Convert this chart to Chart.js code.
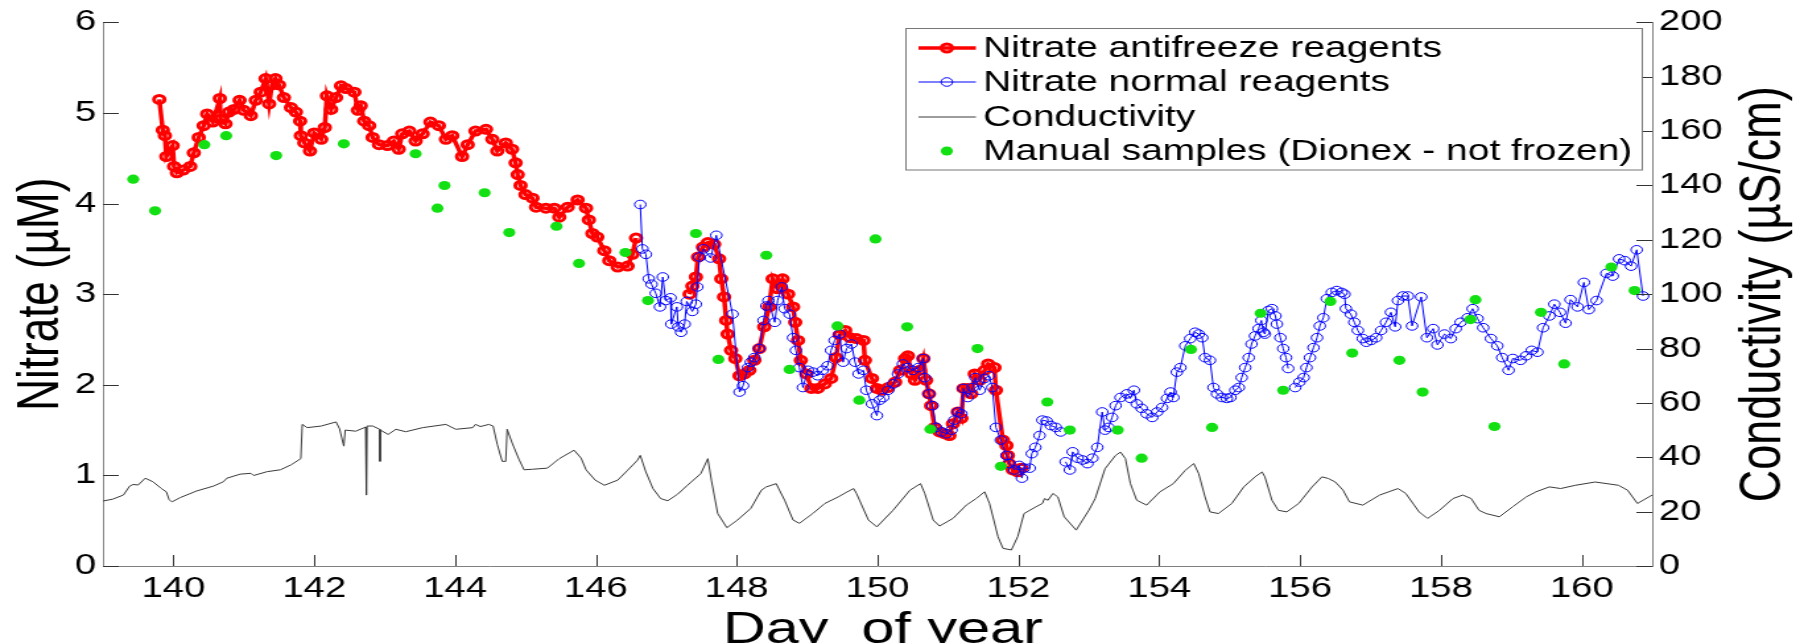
<!DOCTYPE html>
<html>
<head>
<meta charset="utf-8">
<script src="https://cdn.jsdelivr.net/npm/chart.js@4.4.0/dist/chart.umd.min.js"></script>
<style>
  html, body { margin: 0; padding: 0; background: #fff; overflow: hidden; }
</style>
</head>
<body>
<!-- the original figure is stretched sideways, so the canvas is drawn narrow and widened by CSS -->
<canvas id="chart" width="1364" height="643" style="width:1800px;height:643px;display:block"></canvas>
<script>
// Tick labels
const dayTicks = [140, 142, 144, 146, 148, 150, 152, 154, 156, 158, 160];
const nitrateTicks = [0, 1, 2, 3, 4, 5, 6];
const condTicks = [0, 20, 40, 60, 80, 100, 120, 140, 160, 180, 200];

// Nitrate with antifreeze reagents (uM), null = gap in record
const redDay = [139.80, 139.85, 139.88, 139.90, 139.99, 140.01, 140.05, 140.14, 140.24, 140.29, 140.36, 140.43, 140.48, 140.56, 140.66, 140.67, 140.74, 140.79, 140.86, 140.94,
  141.00, 141.10, 141.17, 141.24, 141.31, 141.36, 141.40, 141.45, 141.50, 141.57, 141.67, 141.74, 141.80, 141.81, 141.86, 141.94, 142.00, 142.10, 142.15, 142.18,
  142.24, 142.31, 142.38, 142.45, 142.57, 142.62, 142.66, 142.71, 142.78, 142.83, 142.92, 143.04, 143.13, 143.20, 143.25, 143.35, 143.44, 143.54, 143.65, 143.77,
  143.87, 143.96, 144.10, 144.18, 144.29, 144.44, 144.53, 144.60, 144.72, 144.81, 144.86, 144.89, 144.93, 145.00, 145.10, 145.15, 145.29, 145.41, 145.48, 145.60,
  145.74, 145.86, 145.90, 145.95, 146.02, 146.12, 146.19, 146.31, 146.45, 146.52, 146.57, 146.95,
  147.33, 147.37, 147.42, 147.45, 147.52, 147.59, 147.68, 147.75, 147.78, 147.82, 147.85, 147.87, 147.92, 147.98, 148.04, 148.11, 148.18, 148.25, 148.32, 148.39,
  148.46, 148.51, 148.58, 148.65, 148.73, 148.80, 148.83, 148.87, 148.91, 148.99, 149.06, 149.15, 149.25, 149.34, 149.41, 149.46, 149.54, 149.61, 149.70, 149.80,
  149.82, 149.92, 149.99, 150.06, 150.15, 150.25, 150.32, 150.39, 150.43, 150.48, 150.53, 150.60, 150.65, 150.69, 150.73, 150.76, 150.81, 150.88, 150.95, 151.02,
  151.07, 151.14, 151.19, 151.22, 151.28, 151.33, 151.38, 151.45, 151.52, 151.57, 151.66, 151.68, 151.78, 151.83, 151.85, 151.87, 151.92, 151.99, 152.04];
const redNitrate = [5.15, 4.81, 4.75, 4.52, 4.64, 4.41, 4.34, 4.37, 4.41, 4.56, 4.73, 4.86, 4.99, 4.90, 5.16, 4.93, 4.88, 5.01, 5.04, 5.14,
  5.03, 4.97, 5.14, 5.23, 5.38, 5.10, 5.31, 5.38, 5.31, 5.17, 5.06, 5.01, 4.91, 4.75, 4.67, 4.58, 4.78, 4.71, 4.84, 5.19,
  5.04, 5.17, 5.30, 5.27, 5.23, 5.03, 5.08, 4.91, 4.86, 4.73, 4.65, 4.64, 4.69, 4.60, 4.77, 4.80, 4.69, 4.77, 4.90, 4.86,
  4.71, 4.75, 4.52, 4.65, 4.80, 4.82, 4.71, 4.58, 4.67, 4.60, 4.45, 4.32, 4.20, 4.10, 4.06, 3.96, 3.95, 3.95, 3.85, 3.96,
  4.04, 3.95, 3.82, 3.67, 3.63, 3.48, 3.37, 3.30, 3.31, 3.44, 3.62, null,
  3.00, 3.09, 3.19, 3.41, 3.52, 3.57, 3.55, 3.39, 3.17, 2.97, 2.71, 2.56, 2.38, 2.29, 2.10, 2.12, 2.16, 2.27, 2.40, 2.64,
  2.86, 3.17, 3.06, 3.17, 3.00, 2.86, 2.69, 2.49, 2.27, 2.12, 1.96, 1.96, 2.01, 2.07, 2.30, 2.55, 2.60, 2.52, 2.51, 2.49,
  2.27, 2.07, 1.96, 1.94, 1.97, 2.03, 2.16, 2.29, 2.32, 2.12, 2.05, 2.16, 2.29, 2.05, 1.90, 1.77, 1.53, 1.48, 1.46, 1.44,
  1.57, 1.70, 1.63, 1.96, 1.96, 1.90, 2.12, 2.05, 2.16, 2.23, 2.19, 1.94, 1.39, 1.33, 1.22, 1.13, 1.06, 1.04, 1.08];

// Nitrate with normal reagents (uM)
const blueDay = [146.63, 146.66, 146.71, 146.75, 146.79, 146.85, 146.91, 146.95, 146.99, 147.06, 147.07, 147.15, 147.17, 147.21, 147.26, 147.29, 147.37, 147.42, 147.44, 147.47,
  147.53, 147.63, 147.71, 147.94, 148.04, 148.09, 148.16, 148.20, 148.25, 148.32, 148.38, 148.42, 148.45, 148.54, 148.58, 148.64, 148.68, 148.75, 148.80, 148.84,
  148.89, 148.94, 149.01, 149.08, 149.15, 149.22, 149.29, 149.34, 149.39, 149.46, 149.51, 149.56, 149.63, 149.68, 149.73, 149.80, 149.84, 149.92, 149.99, 150.03,
  150.08, 150.15, 150.22, 150.29, 150.36, 150.43, 150.50, 150.58, 150.65, 150.67, 150.73, 150.78, 150.83, 150.91, 150.98, 151.05, 151.09, 151.14, 151.19, 151.22,
  151.28, 151.35, 151.39, 151.45, 151.52, 151.58, 151.63, 151.68, 151.75, 151.83, 151.87, 151.94, 152.01, 152.05, 152.08, 152.16, 152.19, 152.24, 152.30, 152.34,
  152.40, 152.46, 152.53, 152.60, 152.63, 152.67, 152.73, 152.77, 152.84, 152.91, 152.98, 153.05, 153.12, 153.19, 153.23, 153.28, 153.33, 153.38, 153.45, 153.54,
  153.59, 153.64, 153.68, 153.75, 153.82, 153.90, 153.97, 154.04, 154.11, 154.16, 154.20, 154.25, 154.30, 154.37, 154.44, 154.51, 154.56, 154.61, 154.65, 154.72,
  154.77, 154.82, 154.89, 154.96, 155.01, 155.08, 155.13, 155.17, 155.22, 155.27, 155.31, 155.36, 155.41, 155.45, 155.48, 155.50, 155.55, 155.60, 155.65, 155.67,
  155.72, 155.76, 155.80, 155.83, 155.88, 155.93, 155.99, 156.05, 156.09, 156.14, 156.19, 156.24, 156.28, 156.33, 156.38, 156.45, 156.52, 156.59, 156.63, 156.65,
  156.72, 156.77, 156.82, 156.89, 156.94, 157.01, 157.08, 157.15, 157.22, 157.29, 157.35, 157.39, 157.46, 157.53, 157.59, 157.72, 157.80, 157.89, 157.95, 158.05,
  158.14, 158.21, 158.28, 158.38, 158.45, 158.52, 158.60, 158.71, 158.80, 158.87, 158.96, 159.02, 159.13, 159.21, 159.29, 159.37, 159.45, 159.54, 159.61, 159.69,
  159.77, 159.84, 159.94, 160.03, 160.10, 160.21, 160.35, 160.44, 160.53, 160.61, 160.70, 160.78, 160.87];
const blueNitrate = [3.99, 3.50, 3.44, 3.17, 3.11, 3.01, 2.86, 3.19, 2.93, 2.96, 2.67, 2.86, 2.64, 2.58, 2.67, 2.92, 2.81, 2.89, 3.08, 3.41,
  3.50, 3.40, 3.65, 2.78, 1.92, 1.99, 2.19, 2.25, 2.30, 2.40, 2.71, 2.87, 2.93, 2.69, 2.93, 3.08, 2.84, 2.78, 2.52, 2.38,
  2.19, 1.97, 2.16, 2.14, 2.10, 2.16, 2.21, 2.38, 2.49, 2.56, 2.25, 2.40, 2.45, 2.25, 2.12, 2.16, 1.94, 1.79, 1.66, 1.83,
  1.86, 1.94, 2.01, 2.12, 2.23, 2.19, 2.16, 2.19, 2.29, 2.08, 1.90, 1.77, 1.53, 1.48, 1.46, 1.50, 1.61, 1.70, 1.68, 1.96,
  1.86, 1.97, 2.08, 1.94, 2.07, 2.10, 1.97, 1.53, 1.39, 1.22, 1.13, 1.06, 1.11, 0.97, 1.08, 1.08, 1.24, 1.31, 1.44, 1.61,
  1.60, 1.55, 1.53, 1.48, null, 1.15, 1.06, 1.26, 1.19, 1.17, 1.13, 1.19, 1.31, 1.70, 1.50, 1.53, 1.64, 1.77, 1.86, 1.90,
  1.85, 1.94, 1.79, 1.74, 1.68, 1.64, 1.70, 1.75, 1.85, 1.92, 1.86, 2.14, 2.19, 2.43, 2.51, 2.58, 2.56, 2.52, 2.30, 2.27,
  1.97, 1.90, 1.86, 1.85, 1.86, 1.94, 1.97, 2.08, 2.19, 2.30, 2.45, 2.54, 2.62, 2.71, 2.58, 2.56, 2.82, 2.84, 2.76, 2.67,
  2.52, 2.40, 2.30, 2.18, null, 1.97, 2.03, 2.08, 2.19, 2.30, 2.41, 2.52, 2.65, 2.74, 2.95, 3.02, 3.04, 3.02, 3.00, 2.84,
  2.78, 2.69, 2.60, 2.51, 2.47, 2.49, 2.52, 2.60, 2.69, 2.80, 2.64, 2.93, 2.98, 2.98, 2.65, 2.97, 2.52, 2.62, 2.44, 2.56,
  2.51, 2.62, 2.69, 2.74, 2.84, 2.73, 2.63, 2.51, 2.43, 2.30, 2.16, 2.29, 2.27, 2.32, 2.38, 2.36, 2.63, 2.76, 2.89, 2.80,
  2.68, 2.94, 2.86, 3.13, 2.83, 2.93, 3.23, 3.20, 3.39, 3.37, 3.31, 3.49, 2.98];

// Conductivity (uS/cm), right axis
const condDay = [139.00, 139.14, 139.29, 139.38, 139.43, 139.50, 139.60, 139.71, 139.83, 139.90, 139.94, 139.98, 140.10, 140.33, 140.57, 140.71, 140.76, 140.95, 141.10, 141.14,
  141.33, 141.52, 141.67, 141.81, 141.83, 141.90, 142.10, 142.31, 142.36, 142.42, 142.44, 142.59, 142.73, 142.74, 142.75, 142.83, 142.93, 142.935, 142.94, 143.05,
  143.16, 143.30, 143.54, 143.87, 144.01, 144.25, 144.29, 144.36, 144.48, 144.54, 144.60, 144.67, 144.72, 144.74, 144.81, 144.91, 144.98, 145.10, 145.31, 145.48,
  145.69, 145.79, 145.86, 145.99, 146.12, 146.31, 146.45, 146.59, 146.63, 146.71, 146.81, 146.92, 147.02, 147.16, 147.30, 147.49, 147.59, 147.64, 147.73, 147.86,
  148.01, 148.20, 148.35, 148.42, 148.56, 148.68, 148.80, 148.89, 149.08, 149.25, 149.44, 149.57, 149.66, 149.70, 149.87, 149.99, 150.22, 150.46, 150.61, 150.67,
  150.79, 150.88, 151.07, 151.26, 151.40, 151.52, 151.59, 151.71, 151.78, 151.90, 151.99, 152.08, 152.25, 152.34, 152.37, 152.42, 152.49, 152.56, 152.65, 152.82,
  153.00, 153.09, 153.23, 153.38, 153.45, 153.52, 153.59, 153.68, 153.82, 154.01, 154.20, 154.37, 154.49, 154.56, 154.65, 154.72, 154.84, 155.03, 155.20, 155.36,
  155.46, 155.50, 155.60, 155.69, 155.81, 155.98, 156.17, 156.31, 156.40, 156.50, 156.61, 156.70, 156.89, 157.13, 157.39, 157.50, 157.69, 157.81, 157.98, 158.17,
  158.31, 158.43, 158.54, 158.64, 158.83, 159.02, 159.21, 159.35, 159.54, 159.70, 159.91, 160.19, 160.52, 160.65, 160.79, 160.87, 161.00];
const condValue = [23.9, 24.6, 26.1, 29.4, 30.0, 29.8, 32.3, 31.0, 28.5, 27.3, 24.4, 23.6, 25.2, 27.6, 29.4, 31.0, 32.3, 33.8, 34.1, 33.3,
  34.7, 35.4, 37.2, 39.5, 52.1, 50.9, 51.5, 53.0, 50.5, 44.1, 50.0, 49.6, 51.1, 26.1, 51.5, 51.5, 50.3, 38.5, 50.0, 48.4,
  50.3, 49.4, 50.9, 52.1, 50.3, 50.9, 52.1, 51.3, 52.1, 51.5, 44.7, 38.5, 38.5, 50.3, 45.3, 39.1, 35.4, 35.6, 36.0, 39.5,
  42.6, 39.7, 35.4, 31.6, 29.7, 31.6, 35.2, 38.9, 40.7, 34.6, 28.5, 24.8, 24.0, 26.4, 29.7, 34.0, 39.5, 31.6, 19.3, 14.1,
  16.9, 21.2, 27.9, 29.1, 30.3, 24.2, 16.9, 15.7, 19.3, 23.0, 25.4, 27.3, 28.5, 26.7, 16.9, 14.4, 20.5, 27.9, 30.3, 26.7,
  16.9, 14.7, 17.5, 22.4, 24.8, 27.3, 23.0, 10.8, 6.5, 5.9, 10.8, 19.3, 21.8, 23.0, 24.8, 24.2, 26.7, 25.4, 18.1, 13.2,
  20.5, 24.8, 35.8, 40.7, 41.9, 39.5, 30.3, 24.2, 22.4, 27.3, 30.3, 35.2, 37.7, 34.0, 25.4, 19.9, 19.3, 23.0, 29.1, 32.8,
  34.6, 32.8, 24.2, 20.5, 19.9, 23.0, 29.1, 32.8, 32.2, 30.9, 27.9, 23.6, 22.4, 26.1, 28.5, 26.7, 19.9, 17.5, 20.5, 24.8,
  26.1, 24.8, 20.5, 19.3, 18.1, 21.8, 25.4, 27.3, 29.1, 28.5, 29.7, 30.9, 29.7, 27.9, 23.0, 24.2, 26.1];

// Manual samples (Dionex), uM
const manualDay = [139.43, 139.74, 140.44, 140.75, 141.46, 142.42, 143.44, 143.75, 143.85, 144.42, 144.77, 145.44, 145.76, 146.42, 146.74, 147.42, 147.74, 148.42, 148.75, 149.43,
  149.74, 149.97, 150.42, 150.75, 151.42, 151.75, 152.41, 152.73, 153.41, 153.75, 154.45, 154.75, 155.44, 155.76, 156.43, 156.74, 157.41, 157.74, 158.42, 158.49,
  158.76, 159.42, 159.75, 160.42, 160.75];
const manualNitrate = [4.27, 3.92, 4.65, 4.75, 4.53, 4.66, 4.55, 3.95, 4.20, 4.12, 3.68, 3.75, 3.34, 3.46, 2.93, 3.67, 2.28, 3.43, 2.17, 2.65,
  1.83, 3.61, 2.64, 1.51, 2.40, 1.10, 1.81, 1.50, 1.50, 1.19, 2.39, 1.53, 2.79, 1.94, 2.92, 2.35, 2.27, 1.92, 2.72, 2.94,
  1.54, 2.80, 2.23, 3.30, 3.04];

const legendLabels = ['Nitrate antifreeze reagents', 'Nitrate normal reagents', 'Conductivity', 'Manual samples (Dionex - not frozen)'];

const axisGrey = '#808080';
const fontFamily = "'Liberation Sans', Arial, Helvetica, sans-serif";
Chart.defaults.font.family = fontFamily;
Chart.defaults.color = '#000';

const toPoints = (xs, ys) => xs.map((d, i) => ({ x: d, y: ys[i] }));

// MATLAB style ticks pointing into the plot
const inwardTicks = {
  id: 'inwardTicks',
  afterDraw(chart) {
    const ctx = chart.ctx;
    const { x, y, y2 } = chart.scales;
    const a = chart.chartArea;
    ctx.save();
    ctx.strokeStyle = '#333';
    ctx.lineWidth = 1;
    ctx.beginPath();
    x.ticks.forEach(t => {
      const px = Math.round(x.getPixelForValue(t.value)) + 0.5;
      ctx.moveTo(px, a.bottom); ctx.lineTo(px, a.bottom - 11);
    });
    y.ticks.forEach(t => {
      const py = Math.round(y.getPixelForValue(t.value)) + 0.5;
      ctx.moveTo(a.left, py); ctx.lineTo(a.left + 12, py);
    });
    y2.ticks.forEach(t => {
      const py = Math.round(y2.getPixelForValue(t.value)) + 0.5;
      ctx.moveTo(a.right, py); ctx.lineTo(a.right - 12, py);
    });
    ctx.stroke();
    ctx.restore();
  }
};

// axis titles, read bottom-to-top on both sides as in the figure
const axisTitles = {
  id: 'axisTitles',
  afterDraw(chart) {
    const ctx = chart.ctx;
    const a = chart.chartArea;
    const midY = (a.top + a.bottom) / 2;
    ctx.save();
    ctx.fillStyle = '#000';
    ctx.textAlign = 'center';
    ctx.textBaseline = 'alphabetic';

    ctx.font = `44px ${fontFamily}`;
    ctx.save();
    ctx.translate(43.5, midY);
    ctx.rotate(-Math.PI / 2);
    ctx.fillText('Nitrate (\u00B5M)', 0, 0);
    ctx.restore();

    ctx.font = `45px ${fontFamily}`;
    ctx.save();
    ctx.translate(1349, midY);
    ctx.rotate(-Math.PI / 2);
    ctx.fillText('Conductivity (\u00B5S/cm)', 0, 0);
    ctx.restore();

    ctx.font = `45px ${fontFamily}`;
    ctx.fillText('Day  of year', (a.left + a.right) / 2 + 4, 643);
    ctx.restore();
  }
};

// boxed legend in the upper right of the plot
const boxLegend = {
  id: 'boxLegend',
  afterDraw(chart) {
    const ctx = chart.ctx;
    const box = { x: 686.5, y: 28.5, w: 558, h: 141.5 };
    const rows = [48, 82, 117, 151];
    const lx0 = 696, lx1 = 739.5, mx = 717.5, tx = 745;
    ctx.save();
    ctx.fillStyle = '#fff';
    ctx.fillRect(box.x, box.y, box.w, box.h);
    ctx.strokeStyle = '#777';
    ctx.lineWidth = 1;
    ctx.strokeRect(box.x, box.y, box.w, box.h);

    chart.data.datasets.forEach((ds, i) => {
      const ry = rows[i];
      if (ds.showLine !== false) {
        ctx.strokeStyle = ds.borderColor;
        ctx.lineWidth = ds.borderWidth;
        ctx.beginPath(); ctx.moveTo(lx0, ry); ctx.lineTo(lx1, ry); ctx.stroke();
      }
      if (ds.pointRadius > 0) {
        ctx.beginPath();
        ctx.arc(mx, ry, ds.pointRadius, 0, Math.PI * 2);
        if (ds.pointBackgroundColor !== 'rgba(0,0,0,0)') {
          ctx.fillStyle = ds.pointBackgroundColor; ctx.fill();
        }
        if (ds.pointBorderWidth > 0) {
          ctx.strokeStyle = ds.pointBorderColor; ctx.lineWidth = ds.pointBorderWidth; ctx.stroke();
        }
      }
      ctx.fillStyle = '#000';
      ctx.font = `29.5px ${fontFamily}`;
      ctx.textAlign = 'left';
      ctx.textBaseline = 'middle';
      ctx.fillText(ds.label, tx, ry + 1);
    });
    ctx.restore();
  }
};

const tickFont = { size: 29, family: fontFamily };

new Chart(document.getElementById('chart'), {
  type: 'line',
  data: {
    datasets: [
      {
        label: legendLabels[0],
        data: toPoints(redDay, redNitrate),
        yAxisID: 'y',
        borderColor: '#ff0000', borderWidth: 3.5,
        pointRadius: 4, pointBorderWidth: 3,
        pointBorderColor: '#ff0000', pointBackgroundColor: 'rgba(0,0,0,0)',
        spanGaps: false, order: 4
      },
      {
        label: legendLabels[1],
        data: toPoints(blueDay, blueNitrate),
        yAxisID: 'y',
        borderColor: '#0000ff', borderWidth: 1,
        pointRadius: 4.3, pointBorderWidth: 1,
        pointBorderColor: '#0000ff', pointBackgroundColor: 'rgba(0,0,0,0)',
        spanGaps: false, order: 3
      },
      {
        label: legendLabels[2],
        data: toPoints(condDay, condValue),
        yAxisID: 'y2',
        borderColor: '#3a3a3a', borderWidth: 1,
        pointRadius: 0, pointBorderWidth: 0,
        order: 2
      },
      {
        label: legendLabels[3],
        data: toPoints(manualDay, manualNitrate),
        yAxisID: 'y',
        showLine: false,
        borderColor: '#12e012', borderWidth: 0,
        pointRadius: 4.6, pointBorderWidth: 0,
        pointBorderColor: '#12e012', pointBackgroundColor: '#12e012',
        order: 1
      }
    ]
  },
  options: {
    responsive: false,
    animation: false,
    devicePixelRatio: 1,
    layout: { padding: { top: 21, left: 0, right: 0, bottom: 0 } },
    plugins: {
      legend: { display: false },
      tooltip: { enabled: false }
    },
    elements: { line: { tension: 0 } },
    scales: {
      x: {
        type: 'linear', position: 'bottom', min: 139, max: 161,
        afterBuildTicks: s => { s.ticks = dayTicks.map(v => ({ value: v })); },
        afterFit: s => { s.height = 77; },
        grid: { display: false, drawTicks: false },
        border: { display: true, color: axisGrey, width: 1 },
        ticks: { padding: 6, color: '#000', font: tickFont, maxRotation: 0, autoSkip: false }
      },
      y: {
        type: 'linear', position: 'left', min: 0, max: 6,
        afterBuildTicks: s => { s.ticks = nitrateTicks.map(v => ({ value: v })); },
        afterFit: s => { s.width = 78; },
        grid: { display: false, drawTicks: false },
        border: { display: true, color: axisGrey, width: 1 },
        ticks: { padding: 5, color: '#000', font: tickFont }
      },
      y2: {
        type: 'linear', position: 'right', min: 0, max: 200,
        afterBuildTicks: s => { s.ticks = condTicks.map(v => ({ value: v })); },
        afterFit: s => { s.width = 112; },
        grid: { display: false, drawTicks: false },
        border: { display: true, color: axisGrey, width: 1 },
        ticks: { padding: 5, color: '#000', font: tickFont }
      }
    }
  },
  plugins: [inwardTicks, axisTitles, boxLegend]
});
</script>
</body>
</html>
